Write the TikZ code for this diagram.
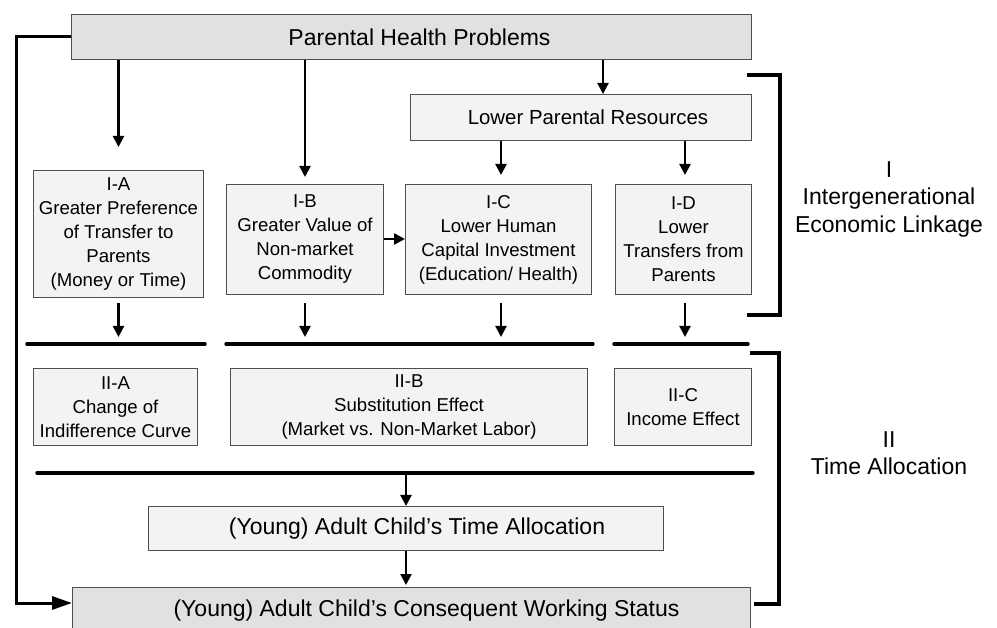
\documentclass[tikz,border=0pt]{standalone}
\usepackage{fontspec}
\setmainfont{Liberation Sans}
\usetikzlibrary{arrows.meta}
\definecolor{darkfill}{HTML}{E1E1E1}
\definecolor{lightfill}{HTML}{F3F3F3}
\definecolor{edgegray}{HTML}{4E4E4E}
\begin{document}
\begin{tikzpicture}[x=1pt,y=-1pt,
  box/.style={draw=edgegray, line width=1pt, fill=lightfill, inner sep=0pt,
    align=center, anchor=north west, font=\fontsize{18.6}{24}\selectfont},
  bigbox/.style={box, fill=darkfill, font=\fontsize{23}{27.5}\selectfont},
  midbox/.style={box, font=\fontsize{23}{27.5}\selectfont},
  arr/.style={line width=2.3pt, -{Triangle[length=11pt,width=11pt]}},
  fbarr/.style={line width=3pt, -{Triangle[length=20pt,width=13pt]}},
  bar/.style={line width=3.4pt, line cap=round},
  brack/.style={line width=3.3pt},
  lbl/.style={align=center, inner sep=0pt, font=\fontsize{23}{27.5}\selectfont}]
\useasboundingbox (0,0) rectangle (997,628);
\clip (0,0) rectangle (997,628);

% boxes
\node[bigbox, minimum width=680pt, minimum height=45pt] (top) at (71,14) {\hspace{16pt}Parental Health Problems};
\node[box, minimum width=341pt, minimum height=46pt, font=\fontsize{20.4}{24}\selectfont] (lpr) at (410,94) {\hspace{14pt}Lower Parental Resources};
\node[box, minimum width=170pt, minimum height=127pt] (ia) at (33,170)
  {I-A\\Greater Preference\\of Transfer to\\Parents\\(Money or Time)};
\node[box, minimum width=157pt, minimum height=110pt] (ib) at (226,184)
  {I-B\\Greater Value of\\Non-market\\Commodity};
\node[box, minimum width=186pt, minimum height=110pt] (ic) at (405,184)
  {I-C\\Lower Human\\Capital Investment\\(Education/ Health)};
\node[box, minimum width=136pt, minimum height=110pt] (id) at (615,184)
  {I-D\\Lower\\Transfers from\\Parents};
\node[box, minimum width=164pt, minimum height=77pt] (iia) at (33,368)
  {II-A\\Change of\\Indifference Curve};
\node[box, minimum width=357pt, minimum height=77pt] (iib) at (230,368)
  {II-B\\Substitution Effect\\(Market vs. Non-Market Labor)};
\node[box, minimum width=137pt, minimum height=77pt] (iic) at (614,368)
  {II-C\\Income Effect};
\node[midbox, minimum width=515pt, minimum height=44pt] (time) at (148,506)
  {\hspace{22pt}(Young) Adult Child’s Time Allocation};
\node[bigbox, minimum width=678pt, minimum height=46pt] (work) at (72,587)
  {\hspace{30pt}(Young) Adult Child’s Consequent Working Status};

% section labels
\node[lbl] (labI) at (889,199) {I\\Intergenerational\\Economic Linkage};
\node[lbl] (labII) at (889,453) {II\\Time Allocation};

% helper coordinates
\coordinate (xlpr) at (603,0);
\coordinate (xic) at (501,0);
\coordinate (xid) at (685,0);
\coordinate (b1l) at (27,344);  \coordinate (b1r) at (205,344);
\coordinate (b2l) at (226,344); \coordinate (b2r) at (593,344);
\coordinate (b3l) at (614,344); \coordinate (b3r) at (748,344);
\coordinate (b4l) at (37,473);  \coordinate (b4r) at (753,473);
\coordinate (fbb) at (16,603);
\coordinate (bIt) at (747,75);  \coordinate (bIc) at (780,75);
\coordinate (bIb) at (747,315);
\coordinate (bIIt) at (750,353); \coordinate (bIIc) at (779,353);
\coordinate (bIIb) at (754,604);

% bars
\draw[bar] (b1l) -- (b1r);
\draw[bar] (b2l) -- (b2r);
\draw[bar] (b3l) -- (b3r);
\draw[bar] (b4l) -- (b4r);

% brackets
\draw[brack] (bIt) -- (bIc) -- (bIc |- bIb) -- (bIb);
\draw[brack] (bIIt) -- (bIIc) -- (bIIc |- bIIb) -- (bIIb);

% arrows from top
\draw[arr, shorten >=23pt] (top.south -| ia.north) -- (ia.north);
\draw[arr, shorten >=7pt] (top.south -| ib.north) -- (ib.north);
\draw[arr] (top.south -| xlpr) -- (lpr.north -| xlpr);
\draw[arr, shorten >=9pt] (lpr.south -| xic) -- (ic.north -| xic);
\draw[arr, shorten >=9pt] (lpr.south -| xid) -- (id.north -| xid);
\draw[arr] (ib.east |- 0,239) -- (ic.west |- 0,239);

% arrows down to bars
\draw[arr, shorten <=5pt, shorten >=7pt] (ia.south) -- (ia.south |- b1l);
\draw[arr, shorten <=8pt, shorten >=7pt] (ib.south) -- (ib.south |- b2l);
\draw[arr, shorten <=8pt, shorten >=7pt] (ic.south -| xic) -- (xic |- b2l);
\draw[arr, shorten <=8pt, shorten >=7pt] (id.south -| xid) -- (xid |- b3l);

% to time allocation and working status
\draw[arr] (time.north |- b4l) -- (time.north);
\draw[arr, shorten >=2pt] (time.south) -- (work.north -| time.south);

% feedback line
\draw[fbarr] (top.west) -| (fbb) -- (work.west |- fbb);
\end{tikzpicture}
\end{document}
